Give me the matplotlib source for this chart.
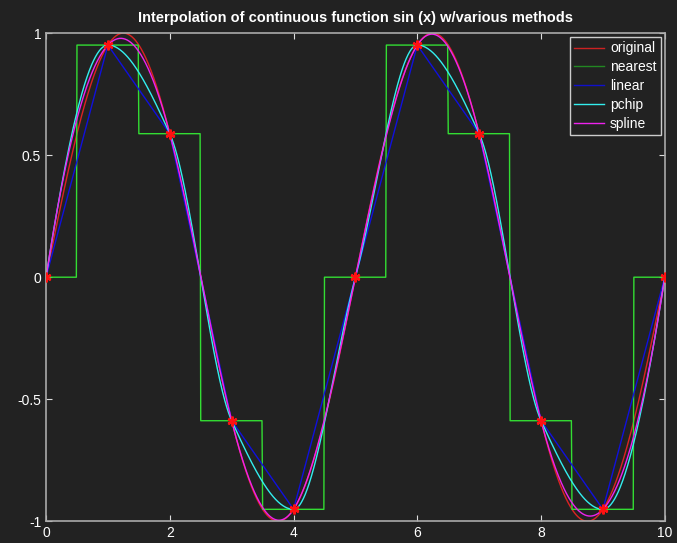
import matplotlib.pyplot as plt
import numpy as np

plt.rcParams["font.family"] = ["Liberation Sans", "DejaVu Sans"]

# sample points of sin(2*pi*x/5)
x_samples = [0, 1, 2, 3, 4, 5, 6, 7, 8, 9, 10]
y_samples = [0.0, 0.951, 0.588, -0.588, -0.951, 0.0, 0.951, 0.588, -0.588, -0.951, 0.0]

x_ticks = [0, 2, 4, 6, 8, 10]
y_ticks = [-1, -0.5, 0, 0.5, 1]
y_tick_labels = ["-1", "-0.5", "0", "0.5", "1"]

legend_names = ["original", "nearest", "linear", "pchip", "spline"]
line_colors = ["#dd2222", "#33dd33", "#1010dd", "#33eeee", "#ee22ee"]
legend_colors = ["#cc2222", "#228822", "#1010cc", "#33eeee", "#ee22ee"]

BG = "#222222"


def nearest_interp(xs, ys, xq):
    idx = np.floor(xq - xs[0] + 0.5).astype(int)
    idx = np.clip(idx, 0, len(xs) - 1)
    return ys[idx]


def spline_notaknot(xs, ys, xq):
    n = len(xs)
    h = np.diff(xs)
    A = np.zeros((n, n))
    b = np.zeros(n)
    A[0, 0], A[0, 1], A[0, 2] = -h[1], h[0] + h[1], -h[0]
    A[-1, -3], A[-1, -2], A[-1, -1] = -h[-1], h[-1] + h[-2], -h[-2]
    for i in range(1, n - 1):
        A[i, i - 1] = h[i - 1]
        A[i, i] = 2 * (h[i - 1] + h[i])
        A[i, i + 1] = h[i]
        b[i] = 6 * ((ys[i + 1] - ys[i]) / h[i] - (ys[i] - ys[i - 1]) / h[i - 1])
    M = np.linalg.solve(A, b)
    k = np.clip(np.searchsorted(xs, xq) - 1, 0, n - 2)
    hk = h[k]
    a = xs[k + 1] - xq
    c = xq - xs[k]
    return (M[k] * a**3 / (6 * hk) + M[k + 1] * c**3 / (6 * hk)
            + (ys[k] / hk - M[k] * hk / 6) * a
            + (ys[k + 1] / hk - M[k + 1] * hk / 6) * c)


def pchip_interp(xs, ys, xq):
    n = len(xs)
    h = np.diff(xs)
    delta = np.diff(ys) / h
    d = np.zeros(n)
    for i in range(1, n - 1):
        if delta[i - 1] * delta[i] > 0:
            w1 = 2 * h[i] + h[i - 1]
            w2 = h[i] + 2 * h[i - 1]
            d[i] = (w1 + w2) / (w1 / delta[i - 1] + w2 / delta[i])

    def end_slope(h0, h1, del0, del1):
        s = ((2 * h0 + h1) * del0 - h0 * del1) / (h0 + h1)
        if np.sign(s) != np.sign(del0):
            s = 0.0
        elif np.sign(del0) != np.sign(del1) and abs(s) > abs(3 * del0):
            s = 3 * del0
        return s

    d[0] = end_slope(h[0], h[1], delta[0], delta[1])
    d[-1] = end_slope(h[-1], h[-2], delta[-1], delta[-2])
    k = np.clip(np.searchsorted(xs, xq) - 1, 0, n - 2)
    t = (xq - xs[k]) / h[k]
    h00 = 2 * t**3 - 3 * t**2 + 1
    h10 = t**3 - 2 * t**2 + t
    h01 = -2 * t**3 + 3 * t**2
    h11 = t**3 - t**2
    return h00 * ys[k] + h10 * h[k] * d[k] + h01 * ys[k + 1] + h11 * h[k] * d[k + 1]


xs = np.array(x_samples, dtype=float)
ys = np.array(y_samples, dtype=float)
xf = np.linspace(0, 10, 1001)

curves = [
    np.sin(2 * np.pi * xf / 5),
    nearest_interp(xs, ys, xf),
    np.interp(xf, xs, ys),
    pchip_interp(xs, ys, xf),
    spline_notaknot(xs, ys, xf),
]

fig = plt.figure(figsize=(6.77, 5.43), dpi=100, facecolor=BG)
ax = fig.add_axes([0.068, 0.040, 0.914, 0.899], facecolor=BG)

for yv, name, col in zip(curves, legend_names, line_colors):
    ax.plot(xf, yv, color=col, linewidth=1.0, label=name)
ax.plot(xs, ys, linestyle="none", marker=(6, 2, 0), color="#ff1111",
        markersize=7, markeredgewidth=1.7, zorder=5)

ax.set_xlim(0, 10)
ax.set_ylim(-1, 1)
ax.set_xticks(x_ticks)
ax.set_yticks(y_ticks)
ax.set_yticklabels(y_tick_labels)
ax.tick_params(direction="in", colors="#dddddd", labelcolor="white",
               labelsize=10, length=4, top=True, right=True)
for sp in ax.spines.values():
    sp.set_color("#aaaaaa")
    sp.set_linewidth(1.2)

ax.set_title("Interpolation of continuous function sin (x) w/various methods",
             color="white", fontsize=10.5, fontweight="bold", pad=8)

leg = ax.legend(loc="upper right", fontsize=10, frameon=True, fancybox=False,
                facecolor=BG, edgecolor="#cccccc", framealpha=1,
                handlelength=2.2, handletextpad=0.4, borderaxespad=0.3,
                labelspacing=0.35, borderpad=0.3)
leg.get_frame().set_linewidth(1.0)
for txt in leg.get_texts():
    txt.set_color("white")
for hnd, col in zip(leg.get_lines(), legend_colors):
    hnd.set_color(col)

fig.savefig("out.png", dpi=100, facecolor=BG)
